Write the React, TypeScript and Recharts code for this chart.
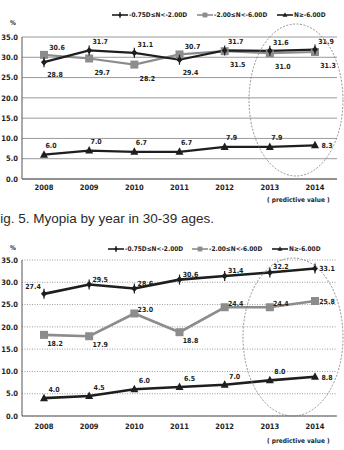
import React from 'react';
import { LineChart, Line, XAxis, YAxis, CartesianGrid } from 'recharts';

const years = ['2008', '2009', '2010', '2011', '2012', '2013', '2014'];
const yTicks = [0, 5, 10, 15, 20, 25, 30, 35];
const seriesNames = ['-0.75D≤N<-2.00D', '-2.00≤N<-6.00D', 'N≥-6.00D'];

// ages 30-39
const lowA = [28.8, 31.7, 31.1, 29.4, 31.7, 31.6, 31.9];
const midA = [30.6, 29.7, 28.2, 30.7, 31.5, 31.0, 31.3];
const highA = [6.0, 7.0, 6.7, 6.7, 7.9, 7.9, 8.3];

// next age group
const lowB = [27.4, 29.5, 28.6, 30.6, 31.4, 32.2, 33.1];
const midB = [18.2, 17.9, 23.0, 18.8, 24.4, 24.4, 25.8];
const highB = [4.0, 4.5, 6.0, 6.5, 7.0, 8.0, 8.8];

const FONT = "'Liberation Sans Narrow', 'DejaVu Sans Condensed', 'Liberation Sans', sans-serif";
const INK = '#1e1e1e';
const GREY = '#8c8c8c';

type Side = 'u' | 'd' | 'l' | 'r';

// where each value label sits relative to its point
const lowASides: Side[] = ['d', 'u', 'u', 'd', 'u', 'u', 'u'];
const midASides: Side[] = ['u', 'd', 'd', 'u', 'd', 'd', 'd'];
const highASides: Side[] = ['u', 'u', 'u', 'u', 'u', 'u', 'r'];
const lowBSides: Side[] = ['l', 'u', 'u', 'u', 'u', 'u', 'r'];
const midBSides: Side[] = ['d', 'd', 'u', 'd', 'u', 'u', 'r'];
const highBSides: Side[] = ['u', 'u', 'u', 'u', 'u', 'u', 'r'];

const toRows = (low: number[], mid: number[], high: number[]) =>
  years.map((year, i) => ({ year, low: low[i], mid: mid[i], high: high[i] }));

const Diamond = ({ cx, cy, s = 1 }: { cx: number; cy: number; s?: number }) => (
  <g>
    <path d={`M${cx},${cy - 3.5 * s}L${cx + 3 * s},${cy}L${cx},${cy + 3.5 * s}L${cx - 3 * s},${cy}Z`} fill={INK} />
    <line x1={cx} x2={cx} y1={cy - 5 * s} y2={cy + 5 * s} stroke={INK} strokeWidth={1.2} />
  </g>
);

const Square = ({ cx, cy, s = 1 }: { cx: number; cy: number; s?: number }) => (
  <rect x={cx - 4 * s} y={cy - 4 * s} width={8 * s} height={8 * s} fill={GREY} />
);

const Triangle = ({ cx, cy, s = 1 }: { cx: number; cy: number; s?: number }) => (
  <path d={`M${cx},${cy - 4.5 * s}L${cx + 4 * s},${cy + 3 * s}L${cx - 4 * s},${cy + 3 * s}Z`} fill={INK} />
);

const dotOf = (Shape: any) => (p: any) => <Shape key={`d${p.index}`} cx={p.cx} cy={p.cy} />;

const valueLabel = (sides: Side[], dx: number, up: number, down: number) => (p: any) => {
  const side = sides[p.index];
  let x = p.x + dx;
  let y = p.y + (side === 'd' ? down : up);
  if (side === 'l') {
    x = p.x - 11;
    y = p.y - 7;
  }
  if (side === 'r') {
    x = p.x + 12;
    y = p.y + 1;
  }
  return (
    <text key={`v${p.index}`} x={x} y={y} textAnchor="middle" dominantBaseline="central"
      fontSize={7} fontWeight={700} fontFamily={FONT} fill={INK}>
      {Number(p.value).toFixed(1)}
    </text>
  );
};

const tickStyle = { fontSize: 7.5, fontWeight: 700, fontFamily: FONT, fill: INK };

interface PanelProps {
  rows: ReturnType<typeof toRows>;
  sides: Side[][];
  offsets: number[][];
  dotted: boolean;
  top: number;
  height: number;
  plotTop: number;
  tickGap: number;
  width: number;
}

function Panel({ rows, sides, offsets, dotted, top, height, plotTop, tickGap, width }: PanelProps) {
  return (
    <div style={{ position: 'absolute', left: 0, top }}>
      <LineChart width={344} height={height} data={rows} margin={{ top: plotTop, right: 7, bottom: 0, left: 0 }}>
        <CartesianGrid vertical={false} stroke={dotted ? '#9a9a9a' : '#8e8e8e'}
          strokeDasharray={dotted ? '1 1.5' : undefined} strokeWidth={dotted ? 1 : 0.9} />
        <XAxis dataKey="year" height={20} interval={0} tickLine={false} tickSize={0} tickMargin={tickGap}
          padding={{ left: 22, right: 22 }} axisLine={{ stroke: '#555' }} tick={tickStyle} />
        <YAxis width={22} domain={[0, 35]} ticks={yTicks} interval={0} tickLine={false} tickSize={0} tickMargin={4}
          axisLine={{ stroke: '#555' }} tick={tickStyle} tickFormatter={(v: number) => v.toFixed(1)} />
        <Line dataKey="high" stroke={INK} strokeWidth={width} isAnimationActive={false}
          dot={dotOf(Triangle)} label={valueLabel(sides[2], offsets[2][0], offsets[2][1], offsets[2][2])} />
        <Line dataKey="mid" stroke={GREY} strokeWidth={width} isAnimationActive={false}
          dot={dotOf(Square)} label={valueLabel(sides[1], offsets[1][0], offsets[1][1], offsets[1][2])} />
        <Line dataKey="low" stroke={INK} strokeWidth={width} isAnimationActive={false}
          dot={dotOf(Diamond)} label={valueLabel(sides[0], offsets[0][0], offsets[0][1], offsets[0][2])} />
      </LineChart>
    </div>
  );
}

const legendShapes = [Diamond, Square, Triangle];
const legendColors = [INK, GREY, INK];

function Legend({ top, lefts }: { top: number; lefts: number[] }) {
  return (
    <>
      {seriesNames.map((name, i) => {
        const Shape = legendShapes[i];
        return (
          <div key={name} style={{ position: 'absolute', left: lefts[i], top: top - 5, height: 10, display: 'flex', alignItems: 'center' }}>
            <svg width={16} height={10}>
              <line x1={0} x2={16} y1={5} y2={5} stroke={legendColors[i]} strokeWidth={1.6} />
              <Shape cx={8} cy={5} s={0.6} />
            </svg>
            <span style={{ fontFamily: FONT, fontSize: 6.5, fontWeight: 700, color: INK, marginLeft: 1, whiteSpace: 'nowrap' }}>
              {name}
            </span>
          </div>
        );
      })}
    </>
  );
}

const smallText: React.CSSProperties = {
  position: 'absolute', fontFamily: FONT, fontSize: 6.5, fontWeight: 700, color: INK, whiteSpace: 'nowrap',
};

export default function App() {
  return (
    <div style={{ position: 'absolute', left: 0, top: 0, width: 344, height: 450, overflow: 'hidden', background: '#fff' }}>
      <Panel rows={toRows(lowA, midA, highA)} sides={[lowASides, midASides, highASides]}
        offsets={[[11, -8, 13], [13, -7, 14], [7, -9, 9]]}
        dotted={false} top={0} height={199} plotTop={37} tickGap={5.5} width={2.2} />
      <Panel rows={toRows(lowB, midB, highB)} sides={[lowBSides, midBSides, highBSides]}
        offsets={[[11, -5, 9], [11, -3, 9], [10, -8, 9]]}
        dotted={true} top={225} height={211} plotTop={35} tickGap={7.5} width={2.6} />

      <Legend top={15} lefts={[112, 197, 277]} />
      <Legend top={249} lefts={[108, 192, 272]} />

      <div style={{ ...smallText, left: 10, top: 19 }}>%</div>
      <div style={{ ...smallText, left: 10, top: 244 }}>%</div>
      <div style={{ ...smallText, left: 267, top: 196 }}>( predictive value )</div>
      <div style={{ ...smallText, left: 267, top: 437 }}>( predictive value )</div>

      <div style={{ position: 'absolute', left: -8, top: 211, fontFamily: "'Liberation Sans', Arial, sans-serif", fontSize: 13.5, color: '#2a2a2a', whiteSpace: 'nowrap' }}>
        Fig. 5. Myopia by year in 30-39 ages.
      </div>

      <svg width={344} height={450} style={{ position: 'absolute', left: 0, top: 0, pointerEvents: 'none' }}>
        <ellipse cx={296} cy={100} rx={47} ry={76} fill="none" stroke="#777" strokeWidth={0.8} strokeDasharray="2 1.5" />
        <ellipse cx={293} cy={337} rx={50} ry={79} fill="none" stroke="#777" strokeWidth={0.8} strokeDasharray="2 1.5" />
      </svg>
    </div>
  );
}
